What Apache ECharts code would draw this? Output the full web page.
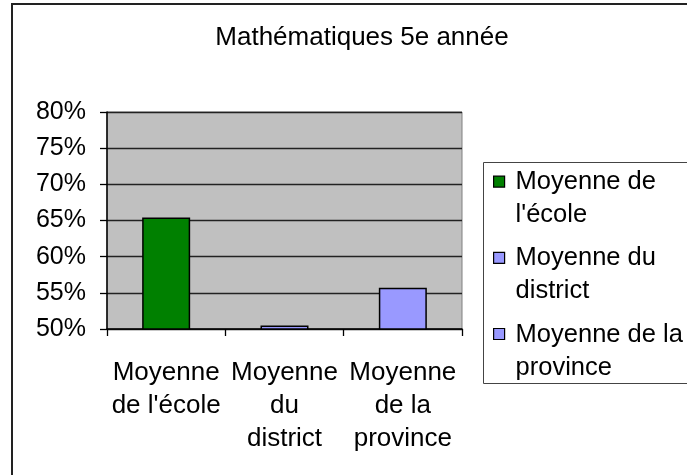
<!DOCTYPE html>
<html lang="fr">
<head>
<meta charset="UTF-8">
<title>Mathématiques 5e année</title>
<script src="https://cdn.jsdelivr.net/npm/echarts@6/dist/echarts.min.js"></script>
<style>
  html, body { margin: 0; padding: 0; background: #fff; overflow: hidden; }
  #main { width: 687px; height: 475px; }
</style>
</head>
<body>
<div id="main"></div>
<script>
// data
const titre = 'Mathématiques 5e année';
const categories = ["Moyenne de l'école", 'Moyenne du district', 'Moyenne de la province'];
const categoryLabels = ["Moyenne\nde l'école", 'Moyenne\ndu\ndistrict', 'Moyenne\nde la\nprovince'];
const legendLabels = ["Moyenne de\nl'école", 'Moyenne du\ndistrict', 'Moyenne de la\nprovince'];
const valeurs = [65.4, 50.5, 55.7];
const couleurs = ['#008000', '#9999ff', '#9999ff'];
const yMin = 50, yMax = 80, yStep = 5;

const FONT = 'Liberation Sans';

// one series per category so the legend shows each bar
const series = categories.map(function (nom, i) {
  return {
    name: nom,
    type: 'bar',
    barWidth: 48,
    barGap: '-100%',
    data: categories.map(function (c, j) { return j === i ? valeurs[i] : '-'; }),
    itemStyle: { color: couleurs[i], borderColor: '#000', borderWidth: 1.5 },
    silent: true
  };
});

const chart = echarts.init(document.getElementById('main'));
chart.setOption({
  animation: false,
  title: {
    text: titre,
    left: 357,
    top: 18,
    textAlign: 'center',
    textStyle: { fontFamily: FONT, fontSize: 26, fontWeight: 'normal', color: '#000', lineHeight: 30 }
  },
  // outer frame and legend box run past the right/bottom edge of the picture
  graphic: [
    { type: 'polyline', shape: { points: [[12, 480], [12, 4], [687, 4]] }, style: { stroke: '#222', lineWidth: 2, fill: null }, silent: true },
    { type: 'polyline', shape: { points: [[687, 162.5], [483.5, 162.5], [483.5, 383.5], [687, 383.5]] }, style: { stroke: '#444', lineWidth: 1, fill: null }, silent: true }
  ],
  legend: {
    orient: 'vertical',
    left: 483,
    top: 162,
    padding: [3, 0, 3, 10],
    itemGap: 9,
    itemWidth: 11,
    itemHeight: 66,
    // square sits beside the first text line
    icon: 'path://M0,0M0,10.5L11,10.5L11,21.5L0,21.5Z M0,66',
    itemStyle: { borderColor: '#000', borderWidth: 1.2 },
    selectedMode: false,
    data: categories,
    formatter: function (name) { return legendLabels[categories.indexOf(name)]; },
    textStyle: { fontFamily: FONT, fontSize: 25.5, color: '#000', lineHeight: 33, padding: [0, 0, 0, 6] }
  },
  grid: {
    left: 107, right: 225, top: 112, bottom: 146,
    show: true,
    backgroundColor: '#c0c0c0',
    borderColor: '#808080',
    borderWidth: 1
  },
  xAxis: {
    type: 'category',
    data: categories,
    axisLine: { lineStyle: { color: '#000', width: 1.5 } },
    axisTick: { show: true, length: 7, lineStyle: { color: '#000', width: 1.3 } },
    axisLabel: {
      interval: 0,
      hideOverlap: false,
      margin: 27,
      fontFamily: FONT, fontSize: 26, color: '#000', lineHeight: 33,
      formatter: function (v) { return categoryLabels[categories.indexOf(v)]; }
    },
    splitLine: { show: false }
  },
  yAxis: {
    type: 'value',
    min: yMin, max: yMax, interval: yStep,
    axisLine: { show: true, lineStyle: { color: '#000', width: 1.5 } },
    axisTick: { show: true, length: 7, lineStyle: { color: '#000', width: 1.3 } },
    axisLabel: {
      margin: 21,
      fontFamily: FONT, fontSize: 25, color: '#000',
      formatter: '{value}%'
    },
    splitLine: { lineStyle: { color: '#222', width: 1.3 } }
  },
  series: series
});
</script>
</body>
</html>
